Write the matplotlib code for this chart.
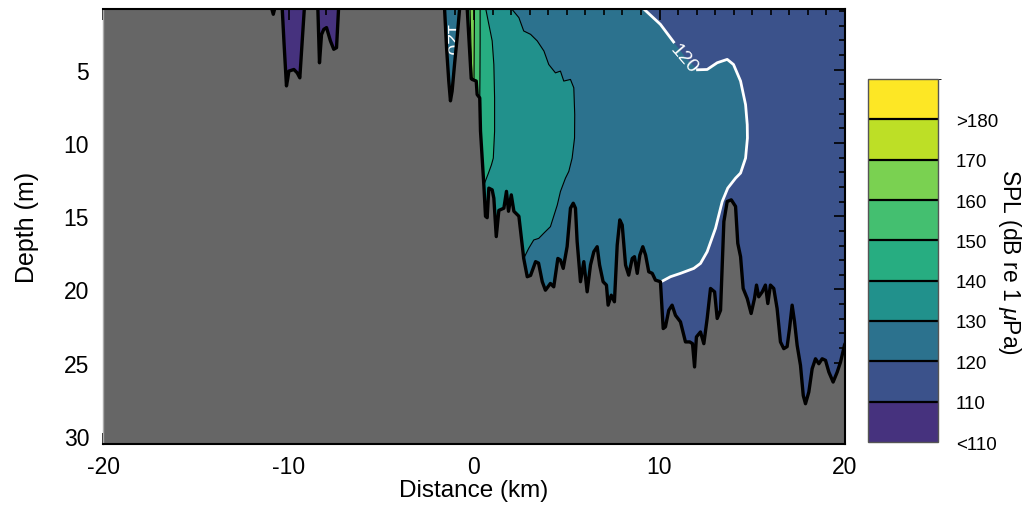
import numpy as np
import matplotlib
matplotlib.use("Agg")
import matplotlib.pyplot as plt
from matplotlib.colors import ListedColormap, BoundaryNorm
from matplotlib.cm import ScalarMappable
from matplotlib.ticker import MultipleLocator, FixedLocator

plt.rcParams['font.family'] = ['Liberation Sans', 'DejaVu Sans']
plt.rcParams['mathtext.fontset'] = 'custom'
plt.rcParams['mathtext.it'] = 'Liberation Sans:italic'
plt.rcParams['mathtext.rm'] = 'Liberation Sans'
plt.rcParams['axes.unicode_minus'] = False

# ---------------- SPL levels (colour bar) ----------------
level_bounds = [100, 110, 120, 130, 140, 150, 160, 170, 180, 190]
level_ticks = [100, 110, 120, 130, 140, 150, 160, 170, 180]
level_labels = ['<110', '110', '120', '130', '140', '150', '160', '170', '>180']
level_colors = ['#46327e', '#3b528b', '#2c728e', '#21918c', '#27ad81',
                '#44bf70', '#7ad151', '#bddf26', '#fde725']

# ---------------- bathymetry (distance km, depth m) ----------------
bathy_km = [-20.0, -11.02, -10.82, -10.64, -10.36, -10.24, -10.11, -10.04, -9.98,
            -9.71, -9.53, -9.39, -9.12, -8.43, -8.38, -8.33, -8.22, -8.10, -7.95,
            -7.74, -7.56, -7.41, -7.28, -1.61, -1.59, -1.48, -1.36, -1.27, -1.18,
            -1.05, -0.91, -0.77, -0.76, -0.40, -0.37, -0.26, -0.15, -0.10, 0.12,
            0.17, 0.31, 0.35, 0.53, 0.62, 0.71, 0.80, 0.98, 1.07, 1.20, 1.34, 1.61,
            1.75, 1.86, 2.01, 2.15, 2.42, 2.60, 2.68, 2.87, 3.05, 3.32, 3.48, 3.68,
            3.85, 4.12, 4.30, 4.52, 4.66, 4.81, 5.02, 5.20, 5.35, 5.47, 5.56, 5.74,
            5.92, 6.10, 6.28, 6.46, 6.64, 6.77, 6.96, 7.14, 7.23, 7.40, 7.57, 7.72,
            7.86, 7.99, 8.17, 8.34, 8.53, 8.65, 8.80, 8.94, 9.10, 9.25, 9.42, 9.61,
            9.78, 10.05, 10.20, 10.32, 10.50, 10.68, 10.86, 11.13, 11.40, 11.63,
            11.78, 11.89, 11.99, 12.21, 12.39, 12.57, 12.75, 12.97, 13.11, 13.29,
            13.47, 13.65, 13.87, 14.10, 14.22, 14.37, 14.51, 14.73, 14.94, 15.12,
            15.23, 15.35, 15.54, 15.71, 15.84, 15.98, 16.16, 16.34, 16.52, 16.70,
            16.88, 17.01, 17.15, 17.28, 17.42, 17.60, 17.75, 17.87, 18.05, 18.23,
            18.41, 18.59, 18.77, 18.95, 19.13, 19.36, 19.58, 19.76, 19.97, 20.0]
bathy_depth = [0.3, 0.3, 1.21, 0.3, 0.3, 3.2, 6.1, 5.6, 5.09,
               4.98, 5.21, 5.55, 0.3, 0.3, 2.5, 4.52, 2.6, 2.24, 2.12,
               3.03, 3.6, 3.49, 0.3, 0.3, 0.75, 3.49, 5.77, 7.12, 6.46,
               4.64, 2.81, 0.75, 0.3, 0.3, 0.75, 3.2, 5.6, 5.66, 5.77,
               6.69, 6.92, 9.18, 12.86, 15.0, 15.1, 13.08, 13.2, 13.77, 16.39, 14.6, 14.45,
               13.3, 14.66, 13.54, 14.66, 15.0, 16.97, 17.88, 19.13, 19.04, 18.1, 18.2, 19.47,
               20.05, 19.59, 19.82, 17.88, 17.99, 18.56, 17.07, 14.45, 14.11, 14.45, 16.73, 19.47,
               18.1, 20.16, 18.33, 17.42, 17.08, 18.33, 19.47, 19.7, 21.07, 20.39, 20.84, 16.97,
               15.25, 15.6, 18.33, 19.02, 17.88, 17.76, 18.9, 17.65, 17.08, 17.65, 18.79, 18.9,
               19.36, 19.47, 22.67, 22.55, 21.42, 21.07, 21.76, 22.21, 23.58, 23.58,
               23.7, 25.29, 23.24, 22.9, 23.7, 21.98, 19.93, 20.16, 21.98, 21.42,
               15.36, 13.99, 13.88, 14.33, 16.85, 17.76, 19.93, 20.62, 21.64, 20.62,
               19.7, 20.5, 20.16, 19.7, 20.96, 19.7, 19.93, 21.3, 23.58, 24.04,
               23.9, 22.67, 21.07, 22.21, 23.81, 25.18, 27.24, 27.8, 27.0, 25.41,
               24.73, 25.07, 24.73, 24.84, 25.64, 26.32, 25.64, 24.95, 23.82, 23.7]

# ---------------- SPL isolines (distance km, depth m) ----------------
iso120_km = [9.02, 9.07, 10.05, 10.76, 11.40, 12.05, 12.57, 13.11, 13.65, 13.99,
             14.37, 14.64, 14.73, 14.74, 14.64, 14.37, 14.10, 13.68, 13.38, 13.02,
             12.57, 12.21, 11.85, 11.13, 10.59, 10.15, 10.05]
iso120_depth = [0.0, 0.75, 1.9, 3.1, 4.15, 5.0, 4.98, 4.52, 4.29, 4.64,
                5.77, 7.38, 8.75, 9.66, 11.03, 12.05, 12.4, 13.08, 14.0, 15.82,
                17.42, 18.22, 18.56, 18.9, 19.13, 19.43, 19.47]
iso120_label_index = 4          # label "120" sits at this point of the line

iso130_km = [1.95, 1.97, 2.42, 2.68, 3.05, 3.41, 3.77, 4.03, 4.39, 4.66, 4.84, 5.20,
             5.38, 5.43, 5.42, 5.29, 5.11, 4.93, 4.66, 4.49, 4.12, 3.76, 3.49, 3.22,
             2.95, 2.68]
iso130_depth = [0.0, 0.75, 1.44, 2.35, 2.58, 3.03, 3.72, 4.64, 5.21, 5.09, 5.77, 5.66,
                6.23, 8.06, 9.66, 11.03, 11.94, 12.4, 13.31, 14.23, 15.71, 16.16, 16.51,
                16.62, 17.19, 17.88]

iso140_km = [0.60, 0.62, 0.80, 0.89, 0.98, 1.07, 1.11, 1.11, 1.04, 0.94, 0.78, 0.57]
iso140_depth = [0.0, 0.75, 1.9, 2.46, 3.03, 4.64, 6.92, 9.2, 11.03, 11.49, 12.05, 12.74]

iso150_km = [0.33, 0.33, 0.32, 0.31]
iso150_depth = [0.0, 3.0, 5.5, 6.92]

iso160_km = [-0.23, -0.12, 0.0, 0.03]
iso160_depth = [0.0, 5.6, 5.6, 0.0]

lt110_km = [-20.0, -3.0]      # far-field zone quieter than 110 dB

# ---------------- figure ----------------
fig = plt.figure(figsize=(10.24, 5.06), dpi=100)
ax = fig.add_axes([103 / 1024, 1 - 445 / 506, 742 / 1024, 435 / 506])
cax = fig.add_axes([868 / 1024, 1 - 443 / 506, 70 / 1024, 363 / 506])

cmap = ListedColormap(level_colors)
norm = BoundaryNorm(level_bounds, cmap.N)

seabed_floor = 31.0
ax.set_facecolor(cmap(norm(115)))

# quieter-than-110 zone
ax.fill_between(lt110_km, 0, seabed_floor, color=cmap(norm(105)), lw=0, zorder=1)


def band(xs, ds, x_left, value, z):
    px = [x_left] + list(xs) + [xs[-1], x_left]
    py = [ds[0]] + list(ds) + [seabed_floor, seabed_floor]
    ax.fill(px, py, color=cmap(norm(value)), lw=0, zorder=z)


band(iso120_km, iso120_depth, -2.0, 125, 1.1)
band(iso130_km, iso130_depth, -0.6, 135, 1.2)
band(iso140_km, iso140_depth, -0.6, 145, 1.3)
band(iso150_km, iso150_depth, -0.6, 155, 1.4)
ax.fill(iso160_km, iso160_depth, color=cmap(norm(165)), lw=0, zorder=1.5)

for xs, ds in [(iso130_km, iso130_depth), (iso140_km, iso140_depth),
               (iso150_km, iso150_depth), (iso160_km, iso160_depth)]:
    ax.plot(xs, ds, color='black', lw=0.8, zorder=2)

k = iso120_label_index
ax.plot(iso120_km[:k], iso120_depth[:k], color='white', lw=2.0, zorder=2.2)
ax.plot(iso120_km[k + 1:], iso120_depth[k + 1:], color='white', lw=2.0, zorder=2.2)
ax.text(iso120_km[k] - 0.1, iso120_depth[k] + 0.1, '120', color='white', fontsize=14,
        rotation=-49, ha='center', va='center', rotation_mode='anchor', zorder=2.3)
ax.text(-1.3, 2.9, '120', color='white', fontsize=14, rotation=-90,
        ha='center', va='center', zorder=2.3)

# seabed
ax.fill_between(bathy_km, bathy_depth, seabed_floor, color='#666666', lw=0, zorder=3)
ax.plot(bathy_km, bathy_depth, color='black', lw=2.4, zorder=4,
        solid_joinstyle='round', solid_capstyle='round')

ax.set_xlim(-20, 20)
ax.set_ylim(30.55, 0.85)
ax.xaxis.set_major_locator(MultipleLocator(10))
ax.xaxis.set_minor_locator(MultipleLocator(1))
ax.yaxis.set_major_locator(FixedLocator([5, 10, 15, 20, 25, 30]))
ax.yaxis.set_minor_locator(MultipleLocator(1))
ax.tick_params(axis='both', which='both', direction='in', top=True, bottom=True,
               left=False, right=True, labelsize=16.5, width=1.2, color='black')
ax.tick_params(axis='both', which='major', length=8)
ax.tick_params(axis='both', which='minor', length=4)
ax.tick_params(axis='x', pad=8)
ax.tick_params(axis='y', pad=10)
ax.set_xlabel('Distance (km)', fontsize=17.5, labelpad=1)
ax.set_ylabel('Depth (m)', fontsize=18, labelpad=18)
for side in ['top', 'bottom', 'right']:
    ax.spines[side].set_linewidth(1.5)
ax.spines['left'].set_color('#aaaaaa')
ax.spines['left'].set_linewidth(1.0)
for s in ax.spines.values():
    s.set_zorder(6)

# colour bar
cb = fig.colorbar(ScalarMappable(norm=norm, cmap=cmap), cax=cax,
                  ticks=level_ticks, drawedges=True)
cb.ax.set_yticklabels(level_labels)
cb.ax.tick_params(length=0, labelsize=13.5, pad=13)
cb.dividers.set_color('black')
cb.dividers.set_linewidth(1.6)
cb.outline.set_edgecolor('#555555')
cb.outline.set_linewidth(1.0)
fig.text(1010 / 1024, 1 - 262 / 506, r'SPL (dB re 1 $\mu$Pa)', rotation=270,
         ha='center', va='center', fontsize=16.5)

fig.savefig('out.png', dpi=100)
